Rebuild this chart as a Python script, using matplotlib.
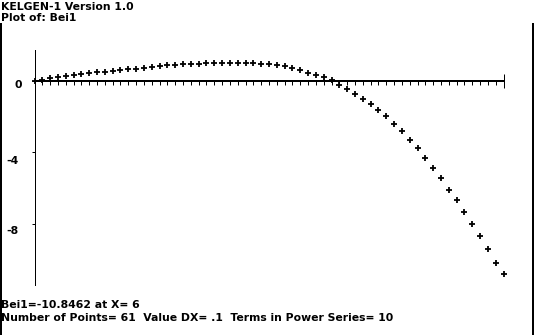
import numpy as np
import matplotlib
matplotlib.use("Agg")
import matplotlib.pyplot as plt
from matplotlib.lines import Line2D

plt.rcParams['font.family'] = ['DejaVu Sans']

########### Bei1 samples, X from 0 to 6 with DX = .1
dx = 0.1
n_points = 61
x_vals = np.round(np.arange(n_points) * dx, 1)
bei1 = [0.0, 0.08, 0.17, 0.22, 0.28, 0.34, 0.38, 0.43, 0.49, 0.53,
        0.56, 0.62, 0.66, 0.70, 0.75, 0.79, 0.82, 0.88, 0.91, 0.93,
        0.95, 0.98, 1.00, 1.01, 1.02, 1.02, 1.02, 1.01, 1.00, 0.97,
        0.93, 0.88, 0.82, 0.72, 0.60, 0.47, 0.36, 0.22, 0.08, -0.20,
        -0.43, -0.71, -0.99, -1.31, -1.64, -1.98, -2.41, -2.82, -3.33, -3.77,
        -4.34, -4.90, -5.46, -6.09, -6.69, -7.36, -8.04, -8.71, -9.44, -10.19,
        -10.8462]
y_ticks = [0, -4, -8]
y_tick_labels = ["0", "-4", "-8"]
terms = 10

W, H = 535, 335
fig = plt.figure(figsize=(W / 100, H / 100), dpi=100)
fig.patch.set_facecolor("white")

# axes over the whole window, origin at pixel (34.5, 81)
ox, oy = 34.5, 81.0
px_x = 78.17   # pixels per unit X
px_y = 17.83   # pixels per unit Y
ax = fig.add_axes([0, 0, 1, 1])
ax.set_xlim(-ox / px_x, (W - ox) / px_x)
ax.set_ylim(-(H - oy) / px_y, oy / px_y)
ax.patch.set_alpha(0)

for s in ["top", "right"]:
    ax.spines[s].set_visible(False)
ax.spines["left"].set_position(("data", 0))
ax.spines["bottom"].set_position(("data", 0))
ax.spines["left"].set_bounds(-11.46, 1.72)
ax.spines["bottom"].set_bounds(0, 6)
ax.spines["left"].set_linewidth(0.72)
ax.spines["bottom"].set_linewidth(1.3)
ax.spines["left"].set_antialiased(False)
ax.spines["bottom"].set_antialiased(False)

# small ticks every DX, a tall one at the end
ax.set_xticks([6], labels=[])
ax.set_xticks(x_vals[1:-1], minor=True)
ax.tick_params(axis="x", which="minor", direction="out", length=2.6, width=0.72, color="black")
ax.tick_params(axis="x", which="major", direction="inout", length=9.5, width=0.72, color="black")
ax.set_yticks(y_ticks, labels=[])
ax.tick_params(axis="y", direction="out", length=2.3, width=0.72, color="black")

lab_off = [(-16, -4.3), (-22.5, -8.3), (-22.5, -7.4)]
for t, lab, off in zip(y_ticks, y_tick_labels, lab_off):
    ax.annotate(lab, xy=(0, t), xytext=off, textcoords="offset pixels",
                ha="center", va="center", fontsize=7.8, fontweight="bold")

ax.plot(x_vals, bei1, linestyle="none", marker="+", markersize=5.0,
        markeredgewidth=1.3, color="black", antialiased=False)

# window frame
for xp in [1, 533]:
    fig.add_artist(Line2D([xp / W, xp / W], [0, 1 - 24 / H], transform=fig.transFigure,
                          color="black", linewidth=1.4, antialiased=False))

def put_line(txt, base_px):
    fig.text(1.5 / W, 1 - base_px / H, txt, ha="left", va="baseline",
             fontsize=7.8, fontweight="bold")

put_line("KELGEN-1 Version 1.0", 10)
put_line("Plot of: Bei1", 21)
put_line("Bei1=%.4f at X= %g" % (bei1[-1], x_vals[-1]), 308.5)
put_line("Number of Points= %d  Value DX= .1  Terms in Power Series= %d" % (n_points, terms), 321)

fig.savefig("out.png", dpi=100)
